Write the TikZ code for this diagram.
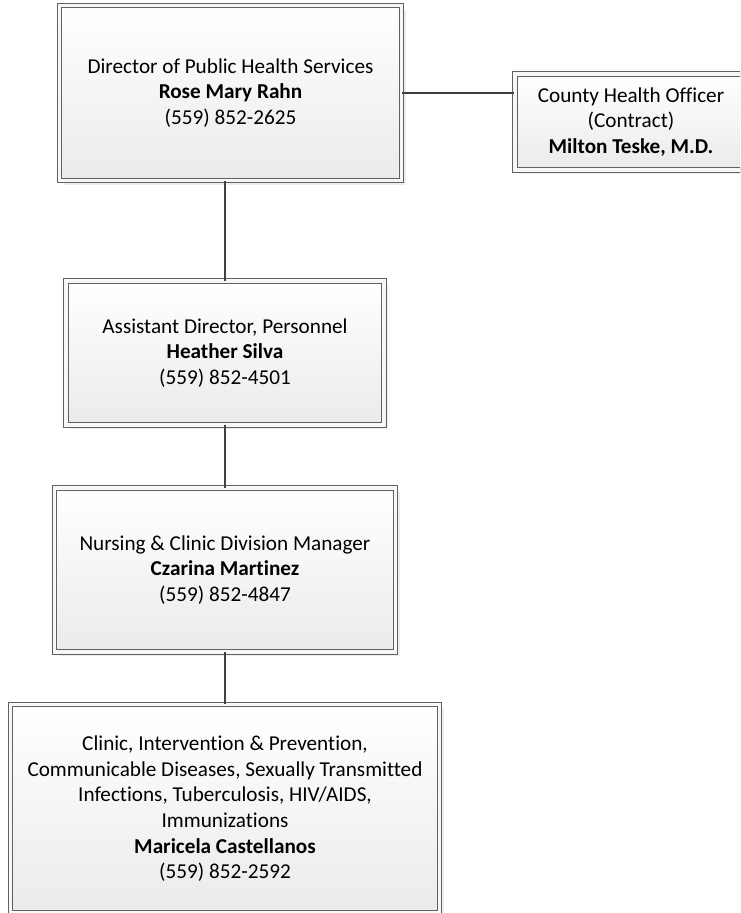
\documentclass[tikz,border=0pt]{standalone}
\usepackage{fontspec}
\setmainfont[Ligatures=NoCommon]{Carlito}
\usetikzlibrary{shadows}

\begin{document}
\begin{tikzpicture}[x=1pt,y=-1pt,
    orgbox/.style={draw=black!62,line width=1.1pt,double=black!3,double distance=3.6pt,
      top color=white,bottom color=black!8,
      drop shadow={shadow xshift=4pt,shadow yshift=-4pt,fill=black!14},
      align=center,inner sep=0pt,font=\fontsize{21.2}{25.7}\selectfont},
    link/.style={draw=black!75,line width=2pt}]
    \clip (0,0) rectangle (740,913);
    \node[orgbox,minimum width=342pt,minimum height=175pt] (dir) at (230.5,93)
        {Director of Public Health Services\\\textbf{Rose Mary Rahn}\\(559) 852-2625};
    \node[orgbox,minimum width=232pt,minimum height=96pt] (cho) at (631,122)
        {County Health Officer\\(Contract)\\\textbf{Milton Teske, M.D.}};
    \node[orgbox,minimum width=318pt,minimum height=143.5pt] (asst) at (225,353)
        {Assistant Director, Personnel\\\textbf{Heather Silva}\\(559) 852-4501};
    \node[orgbox,minimum width=341pt,minimum height=163.5pt] (nur) at (225,570)
        {Nursing \& Clinic Division Manager\\\textbf{Czarina Martinez}\\(559) 852-4847};
    \node[orgbox,minimum width=429pt,minimum height=208.5pt] (cli) at (225,808.75)
        {Clinic, Intervention \& Prevention,\\Communicable Diseases, Sexually Transmitted\\Infections, Tuberculosis, HIV/AIDS,\\Immunizations\\\textbf{Maricela Castellanos}\\(559) 852-2592};
    \draw[link] (dir.east) -- (dir.east -| cho.west);
    \draw[link] (asst.north) -- (asst.north |- dir.south);
    \draw[link] (asst.south) -- (nur.north);
    \draw[link] (nur.south) -- (cli.north);
\end{tikzpicture}
\end{document}
